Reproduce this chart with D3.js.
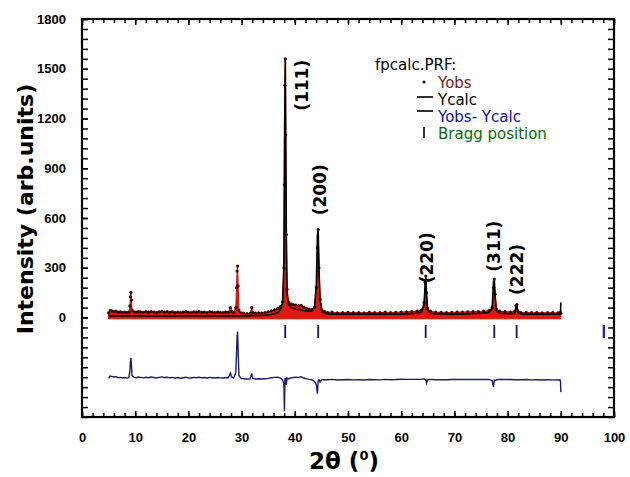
<!DOCTYPE html>
<html>
<head>
<meta charset="utf-8">
<script src="https://cdn.jsdelivr.net/npm/d3@7"></script>
<style>
  body { margin: 0; background: #fff; }
  svg { display: block; }
  .tick text { font-family: "Liberation Sans Narrow", "Liberation Sans", Arial, sans-serif; font-weight: bold; font-size: 13px; fill: #000; }
</style>
</head>
<body>
<script>
var twoTheta = [5.0, 5.3, 5.6, 6.0, 6.4, 6.8, 7.2, 7.6, 8.0, 8.4, 8.8, 9.0, 9.1, 9.2, 9.3, 9.4, 9.8,
  10.2, 10.6, 11.0, 11.5, 12.0, 12.5, 13.0, 13.5, 14.0, 14.5, 15.0, 15.5, 16.0, 16.5, 17.0, 17.5,
  18.0, 18.5, 19.0, 19.5, 20.0, 20.5, 21.0, 21.5, 22.0, 22.5, 23.0, 23.5, 24.0, 24.5, 25.0, 25.5,
  26.0, 26.5, 27.0, 27.5, 27.9, 28.1, 28.5, 28.9, 29.05, 29.15, 29.25, 29.35, 29.5, 29.9, 30.4,
  31.0, 31.6, 31.9, 32.1, 32.6, 33.2, 33.8, 34.4, 35.0, 35.6, 36.2, 36.8, 37.3, 37.7, 37.95, 38.05,
  38.15, 38.22, 38.3, 38.4, 38.55, 38.8, 39.2, 39.7, 40.2, 40.7, 41.2, 41.7, 42.2, 42.7, 43.2, 43.7,
  44.05, 44.25, 44.4, 44.55, 44.75, 45.1, 45.6, 46.2, 47.0, 48.0, 49.0, 50.0, 51.0, 52.0, 53.0,
  54.0, 55.0, 56.0, 57.0, 58.0, 59.0, 60.0, 61.0, 62.0, 63.0, 63.8, 64.3, 64.5, 64.62, 64.75, 64.95,
  65.5, 66.5, 67.5, 68.5, 69.5, 70.5, 71.5, 72.5, 73.5, 74.5, 75.5, 76.5, 77.1, 77.35, 77.5, 77.65,
  77.9, 78.5, 79.5, 80.5, 81.3, 81.6, 81.75, 81.95, 82.5, 83.5, 84.5, 85.5, 86.5, 87.5, 88.5, 89.5,
  89.85, 89.95, 90.0];
var yObs = [28, 42, 40, 36, 38, 32, 34, 30, 33, 30, 32, 70, 125, 152, 105, 45, 34,
  32, 36, 34, 31, 35, 32, 36, 33, 30, 34, 37, 33, 35, 31, 34, 30,
  33, 29, 32, 35, 31, 30, 34, 32, 35, 31, 33, 30, 34, 32, 30, 33,
  31, 30, 33, 31, 60, 38, 30, 60, 180, 280, 310, 190, 45, 28, 26,
  24, 25, 60, 30, 26, 28, 26, 30, 34, 40, 46, 55, 65, 95, 300, 800,
  1400, 1560, 1100, 500, 170, 95, 82, 78, 75, 72, 74, 62, 55, 50, 48, 60,
  180, 420, 530, 300, 110, 45, 35, 30, 32, 28, 30, 31, 29, 30, 28,
  31, 30, 29, 32, 30, 31, 33, 34, 36, 38, 45, 90, 210, 250, 150, 55,
  38, 32, 31, 30, 31, 32, 33, 34, 35, 36, 38, 42, 60, 180, 232, 140,
  50, 38, 35, 33, 36, 72, 78, 40, 30, 31, 29, 30, 28, 30, 29, 28,
  30, 28, 25];
var yCalc = [10, 10, 10, 10, 10, 10, 10, 10, 10, 10, 10, 10, 10, 10, 10, 10, 10,
  10, 10, 10, 10, 10, 10, 10, 10, 10, 10, 10, 10, 10, 10, 10, 10,
  10, 10, 10, 10, 10, 10, 10, 10, 10, 10, 10, 10, 10, 10, 10, 10,
  10, 10, 10, 10, 10, 10, 10, 10, 10, 10, 10, 10, 10, 10, 10,
  10, 10, 12, 12, 12, 12, 12, 14, 16, 18, 22, 30, 45, 85, 320, 980,
  1380, 1555, 1080, 520, 150, 80, 62, 55, 50, 48, 46, 42, 40, 38, 38, 60,
  200, 495, 525, 290, 115, 35, 25, 20, 20, 20, 20, 20, 20, 20, 20,
  20, 20, 20, 20, 20, 20, 20, 22, 24, 26, 32, 75, 200, 240, 160, 45,
  26, 22, 21, 20, 20, 20, 22, 22, 24, 25, 27, 30, 55, 215, 225, 135,
  40, 26, 24, 22, 26, 62, 70, 30, 20, 20, 20, 20, 20, 20, 20, 20,
  20, 30, 90];
var diffOffset = -385;

// Bragg reflections
var braggPos = [38.2, 44.4, 64.6, 77.5, 81.7, 98.1];
var braggRange = [-45, -124];

// peak labels (hkl) and where they sit
var hklLabels = ["(111)", "(200)", "(220)", "(311)", "(222)"];
var hklX = [41.3, 44.7, 64.8, 77.4, 81.7];
var hklY = [1400, 770, 360, 430, 290];

// axis ticks
var xTicks = [0, 10, 20, 30, 40, 50, 60, 70, 80, 90, 100];
var yTicks = [0, 300, 600, 900, 1200, 1500, 1800];

// legend
var legendTitle = "fpcalc.PRF:";
var legendNames = ["Yobs", "Ycalc", "Yobs- Ycalc", "Bragg position"];
var legendColors = ["#7a1a1a", "#000000", "#1010a8", "#0b6b0b"];

var W = 630, H = 477;
var x = d3.scaleLinear().domain([0, 100]).range([82, 614]);
var y = d3.scaleLinear().domain([-600, 1800]).range([417, 19]);

var svg = d3.select("body").append("svg").attr("width", W).attr("height", H);

var pts = twoTheta.map(function(t, i) {
  return {t: t, obs: yObs[i], calc: yCalc[i], diff: yObs[i] - yCalc[i] + diffOffset};
});

// observed as red band
svg.append("path")
  .datum(pts)
  .attr("fill", "#e3170c")
  .attr("stroke", "#c0100a")
  .attr("stroke-width", 1)
  .attr("d", d3.area().x(function(d) { return x(d.t); }).y0(y(-8)).y1(function(d) { return y(d.obs); }));

// observed points
svg.append("g").selectAll("circle")
  .data(pts).enter().append("circle")
  .attr("cx", function(d) { return x(d.t); })
  .attr("cy", function(d) { return y(d.obs); })
  .attr("r", 1.6)
  .attr("fill", "#3a0606");

// calculated
svg.append("path")
  .datum(pts)
  .attr("fill", "none")
  .attr("stroke", "#000")
  .attr("stroke-width", 1.6)
  .attr("d", d3.line().x(function(d) { return x(d.t); }).y(function(d) { return y(d.calc); }));

// difference
svg.append("path")
  .datum(pts)
  .attr("fill", "none")
  .attr("stroke", "#1c1c6e")
  .attr("stroke-width", 1.4)
  .attr("d", d3.line().x(function(d) { return x(d.t); }).y(function(d) { return y(d.diff); }));

// Bragg ticks
svg.append("g").selectAll("line")
  .data(braggPos).enter().append("line")
  .attr("x1", function(d) { return x(d); })
  .attr("x2", function(d) { return x(d); })
  .attr("y1", y(braggRange[0]))
  .attr("y2", y(braggRange[1]))
  .attr("stroke", function(d) { return d > 90 ? "#2a2aa0" : "#15155a"; })
  .attr("stroke-width", function(d) { return d > 90 ? 2.4 : 1.8; });

// hkl labels
svg.append("g").selectAll("text")
  .data(hklLabels).enter().append("text")
  .attr("transform", function(d, i) { return "translate(" + x(hklX[i]) + "," + y(hklY[i]) + ") rotate(-90)"; })
  .attr("text-anchor", "middle")
  .attr("dominant-baseline", "central")
  .style("font-family", "DejaVu Sans, sans-serif")
  .style("font-weight", "bold")
  .style("font-size", "17px")
  .text(function(d) { return d; });

// axes: ticks inward on all four sides
function styleAxis(g) {
  g.select(".domain").remove();
  g.selectAll(".tick line").attr("stroke", "#000").attr("stroke-width", 1.5);
}
var xMinor = d3.range(0, 101, 2), yMinor = d3.range(-600, 1801, 60);

svg.append("g").attr("transform", "translate(0,417)")
  .call(d3.axisBottom(x).tickValues(xMinor).tickSize(-4).tickFormat(""))
  .call(styleAxis);
svg.append("g").attr("transform", "translate(0,417)")
  .call(d3.axisBottom(x).tickValues(xTicks).tickSize(-6).tickPadding(16).tickFormat(d3.format("d")))
  .call(styleAxis);
svg.append("g").attr("transform", "translate(0,19)")
  .call(d3.axisTop(x).tickValues(xMinor).tickSize(-4).tickFormat(""))
  .call(styleAxis);
svg.append("g").attr("transform", "translate(0,19)")
  .call(d3.axisTop(x).tickValues(xTicks).tickSize(-6).tickFormat(""))
  .call(styleAxis);

svg.append("g").attr("transform", "translate(82,0)")
  .call(d3.axisLeft(y).tickValues(yMinor).tickSize(-6).tickFormat(""))
  .call(styleAxis);
svg.append("g").attr("transform", "translate(82,0)")
  .call(d3.axisLeft(y).tickValues(yTicks).tickSize(-6).tickPadding(16).tickFormat(d3.format("d")))
  .call(styleAxis);
svg.append("g").attr("transform", "translate(614,0)")
  .call(d3.axisRight(y).tickValues(yMinor).tickSize(-6).tickFormat(""))
  .call(styleAxis);

// frame
svg.append("rect")
  .attr("x", 82).attr("y", 19).attr("width", 532).attr("height", 398)
  .attr("fill", "none").attr("stroke", "#000").attr("stroke-width", 2.2);

// axis titles
svg.append("text")
  .attr("transform", "translate(33,209) rotate(-90)")
  .attr("text-anchor", "middle")
  .style("font-family", "DejaVu Sans, sans-serif")
  .style("font-weight", "bold")
  .style("font-size", "22px")
  .text("Intensity (arb.units)");

var xt = svg.append("text")
  .attr("x", 344).attr("y", 469)
  .attr("text-anchor", "middle")
  .style("font-family", "DejaVu Sans, sans-serif")
  .style("font-weight", "bold")
  .style("font-size", "23px");
xt.append("tspan").text("2θ (");
xt.append("tspan").attr("dy", -9).style("font-size", "13px").text("0");
xt.append("tspan").attr("dy", 9).text(")");

// legend
var lg = svg.append("g").style("font-family", "DejaVu Sans, sans-serif");
lg.append("text").attr("x", 375).attr("y", 70).style("font-size", "15px").attr("fill", "#000").text(legendTitle);
var rowY = [88, 105, 122, 139];
legendNames.forEach(function(n, i) {
  lg.append("text").attr("x", 438).attr("y", rowY[i]).style("font-size", "15px")
    .attr("fill", legendColors[i]).text(n);
});
lg.append("circle").attr("cx", 424).attr("cy", 82).attr("r", 1.6).attr("fill", "#3a0606");
lg.append("line").attr("x1", 417).attr("x2", 433).attr("y1", 97).attr("y2", 97).attr("stroke", "#000").attr("stroke-width", 1.6);
lg.append("line").attr("x1", 417).attr("x2", 433).attr("y1", 111).attr("y2", 111).attr("stroke", "#000").attr("stroke-width", 1.6);
lg.append("line").attr("x1", 424).attr("x2", 424).attr("y1", 127).attr("y2", 138).attr("stroke", "#000").attr("stroke-width", 1.6);
</script>
</body>
</html>
